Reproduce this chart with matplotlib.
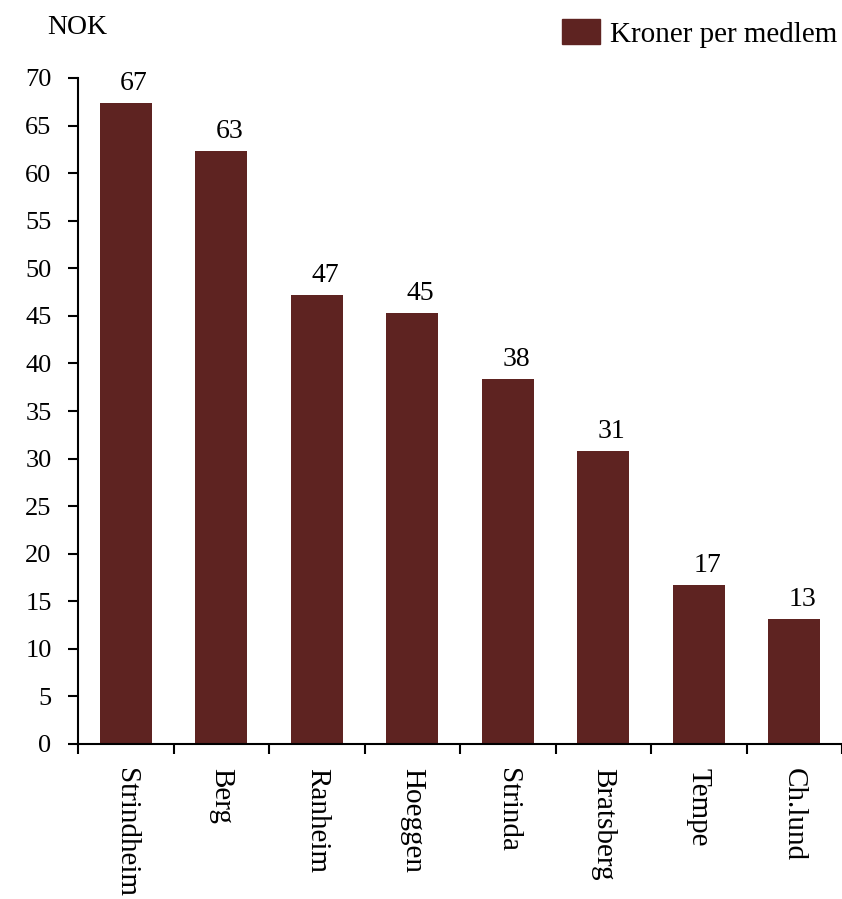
import matplotlib
matplotlib.use("Agg")
import matplotlib.pyplot as plt
from matplotlib.patches import Patch
import numpy as np

categories = ["Strindheim", "Berg", "Ranheim", "Hoeggen", "Strinda", "Bratsberg", "Tempe", "Ch.lund"]
values = [67.4, 62.3, 47.2, 45.3, 38.4, 30.8, 16.7, 13.1]
value_labels = ["67", "63", "47", "45", "38", "31", "17", "13"]
yticks = list(range(0, 75, 5))

color = "#5e2321"
plt.rcParams['font.family'] = ['Liberation Serif', 'DejaVu Serif']

fig = plt.figure(figsize=(8.42, 8.99), dpi=100)
ax = fig.add_axes([78/842, (899-744)/899, 1 - 78/842, (744-78)/899])
x = np.arange(len(categories))
bars = ax.bar(x, values, width=0.54, color=color)
for xi, v, lab in zip(x, values, value_labels):
    ax.annotate(lab, (xi, v), xytext=(6, 5), textcoords="offset points",
                ha="center", va="bottom", fontsize=20)

ax.set_xlim(-0.5, len(categories) - 0.5)
ax.set_ylim(0, 70)
ax.set_yticks(yticks)
ax.set_yticklabels([str(t) for t in yticks], fontsize=19)
ax.tick_params(axis='y', length=7, width=1.5, pad=12, direction='out')
ax.set_xticks(x)
ax.set_xticklabels(categories, rotation=-90, fontsize=21, va='top', ha='center')
ax.tick_params(axis='x', which='major', length=0, pad=17)
ax.set_xticks(np.arange(-0.5, len(categories), 1.0), minor=True)
ax.tick_params(axis='x', which='minor', length=7, width=1.5, direction='out')
for s in ['top', 'right']:
    ax.spines[s].set_visible(False)
for s in ['left', 'bottom']:
    ax.spines[s].set_linewidth(1.5)

fig.text(47/842, 1 - 27/899, "NOK", fontsize=20, va='center', ha='left')
leg = fig.legend(handles=[Patch(color=color, label="Kroner per medlem")],
                 loc='upper right', bbox_to_anchor=(1.0 + 14/842, 1.0), frameon=False,
                 fontsize=21, handlelength=1.3, handleheight=0.95, handletextpad=0.35,
                 borderaxespad=0.25)

fig.savefig("out.png", dpi=100)
